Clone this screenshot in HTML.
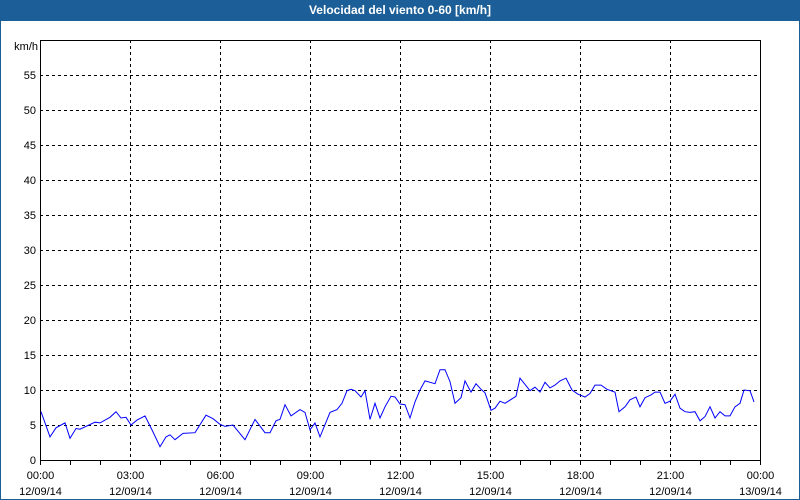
<!DOCTYPE html>
<html><head><meta charset="utf-8"><style>
body{margin:0;width:800px;height:500px;overflow:hidden;background:#fff;font-family:"Liberation Sans",sans-serif}
#frame{position:absolute;left:0;top:0;width:798px;height:499px;border:1px solid #1c5f98;border-top:none}
#title{position:absolute;left:0;top:0;width:800px;height:21px;background:#1c5f98;color:#fff;font-weight:bold;font-size:12px;line-height:21px;text-align:center}
</style></head><body>
<div id="frame"></div>
<div id="title">Velocidad del viento 0-60 [km/h]</div>
<svg id="chart" width="800" height="500" style="position:absolute;left:0;top:0"></svg>
<script>
const times=[2,20,32,50,60,72,80,110,120,140,152,162,172,182,194,210,224,240,252,260,270,286,310,332,346,360,370,386,410,430,450,460,472,480,490,502,520,530,540,550,560,580,594,604,614,622,630,642,650,660,670,680,690,702,710,720,730,740,750,760,770,790,800,810,820,830,842,850,862,872,882,890,902,910,920,930,952,960,980,990,1000,1010,1020,1030,1040,1052,1064,1076,1090,1100,1110,1122,1134,1150,1158,1170,1180,1192,1200,1210,1222,1230,1240,1250,1260,1270,1280,1290,1300,1310,1320,1330,1340,1350,1360,1370,1380,1390,1400,1408,1420,1428];
const values=[6.9,3.3,4.6,5.3,3.1,4.5,4.4,5.4,5.3,6.1,6.9,6.0,6.1,5.0,5.7,6.3,4.3,1.9,3.3,3.6,2.9,3.8,3.9,6.4,5.9,5.1,4.8,5.0,2.9,5.8,3.9,3.9,5.6,5.8,7.9,6.3,7.2,6.8,4.3,5.3,3.3,6.8,7.2,8.1,9.9,10.1,9.9,9.0,9.9,5.8,8.1,6.0,7.6,9.1,9.0,8.0,7.9,6.0,8.3,10.0,11.3,10.9,12.9,12.9,11.2,8.1,8.9,11.3,9.7,10.9,10.1,9.6,7.1,7.4,8.4,8.1,9.1,11.7,9.9,10.4,9.7,11.1,10.3,10.7,11.3,11.7,10.0,9.4,9.0,9.5,10.7,10.7,10.1,9.7,6.9,7.6,8.6,9.0,7.6,8.9,9.3,9.7,9.7,8.1,8.4,9.4,7.4,6.9,6.8,6.9,5.6,6.2,7.6,6.0,6.9,6.3,6.3,7.6,8.1,10.0,9.9,8.3,8.1];
const yTicks=[0,5,10,15,20,25,30,35,40,45,50,55];
const xTickLabels=["00:00","03:00","06:00","09:00","12:00","15:00","18:00","21:00","00:00"];
const xDateLabels=["12/09/14","12/09/14","12/09/14","12/09/14","12/09/14","12/09/14","12/09/14","12/09/14","13/09/14"];
const X0=40,X1=760,Y0=460,Y1=40,YMAX=60,TMAX=1440;
const xs=t=>X0+(X1-X0)*t/TMAX, ys=v=>Y0-(Y0-Y1)*v/YMAX;
const svg=document.getElementById('chart'),NS="http://www.w3.org/2000/svg";
function mk(tag,attrs,parent){const e=document.createElementNS(NS,tag);for(const k in attrs)e.setAttribute(k,attrs[k]);(parent||svg).appendChild(e);return e;}
yTicks.forEach(v=>{
 if(v>0){const l=mk('line',{x1:X0,x2:X1,y1:ys(v)+0.5,y2:ys(v)+0.5,stroke:'#000','stroke-dasharray':'3,3'});
 
 }
 const t=mk('text',{x:36,y:ys(v)+4,'text-anchor':'end','font-size':'11',fill:'#000'});t.textContent=v;
 
 
});
const u=mk('text',{x:38,y:50,'text-anchor':'end','font-size':'11'});u.textContent='km/h';


xTickLabels.forEach((lab,i)=>{
 const x=Math.round(xs(i*180))+0.5;
 if(i>0&&i<8){const g=mk('line',{x1:x,x2:x,y1:Y1,y2:Y0,stroke:'#000','stroke-dasharray':'3,3'});
 
 }
 const t=mk('text',{x:x,y:479,'text-anchor':'middle','font-size':'11'});t.textContent=lab;
 
 
 const d=mk('text',{x:x,y:495,'text-anchor':'middle','font-size':'11'});d.textContent=xDateLabels[i];
 
 
});
for(let h=0;h<=24;h++){const x=Math.round(xs(h*60))+0.5;const tk=mk('line',{x1:x,x2:x,y1:Y0,y2:Y0+5,stroke:'#000'});
 
 }
const box=mk('rect',{x:X0+0.5,y:Y1+0.5,width:X1-X0,height:Y0-Y1,fill:'none',stroke:'#000'});


const pts=times.map((t,i)=>xs(t).toFixed(1)+','+ys(values[i]).toFixed(1)).join(' ');
const line=mk('polyline',{points:pts,fill:'none',stroke:'#0000ff','stroke-width':'1'});


</script>
</body></html>
